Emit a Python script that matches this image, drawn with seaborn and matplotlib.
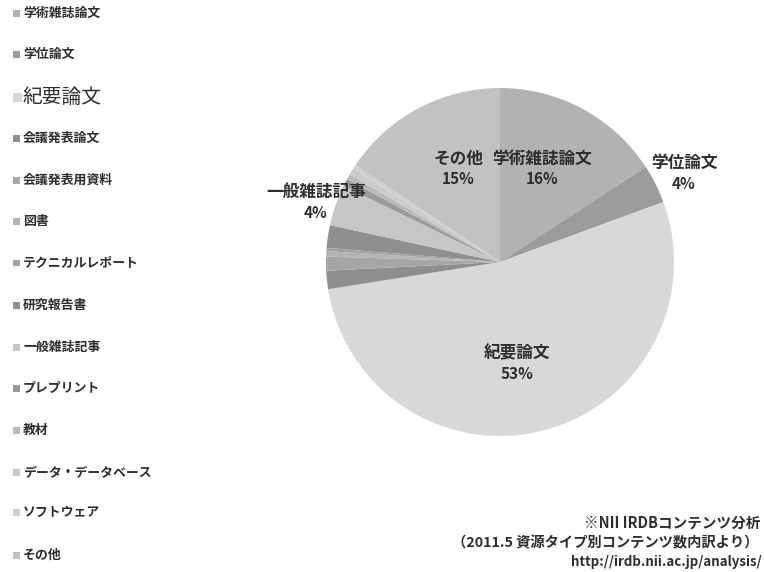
import matplotlib
matplotlib.use("Agg")
import matplotlib.pyplot as plt
import seaborn as sns

sns.set_theme(style="white")
plt.rcParams['font.family'] = ['Noto Sans CJK JP', 'DejaVu Sans']

# Data (clockwise from 12 o'clock)
categories = ["学術雑誌論文", "学位論文", "紀要論文", "会議発表論文", "会議発表用資料",
              "図書", "テクニカルレポート", "研究報告書", "一般雑誌記事", "プレプリント",
              "教材", "データ・データベース", "ソフトウェア", "その他"]
values = [15.8, 3.6, 53.1, 1.7, 1.3, 0.5, 0.3, 2.1, 3.8, 0.7, 0.5, 0.6, 0.4, 15.6]
percent_labels = ["16%", "4%", "53%", "", "", "", "", "", "4%", "", "", "", "", "15%"]
colors = ["#b2b2b2", "#9c9c9c", "#d8d8d8", "#8e8e8e", "#a6a6a6",
          "#b4b4b4", "#a2a2a2", "#8f8f8f", "#c6c6c6", "#9a9a9a",
          "#bababa", "#cbcbcb", "#d0d0d0", "#c2c2c2"]

W, H = 764, 572
fig = plt.figure(figsize=(W / 100, H / 100), dpi=100)
fig.patch.set_facecolor("white")

cx, cy, r = 500, 262, 174
ax = fig.add_axes([(cx - r) / W, 1 - (cy + r) / H, 2 * r / W, 2 * r / H])
ax.pie(values, colors=colors, startangle=90, counterclock=False,
       wedgeprops=dict(linewidth=0), radius=1.0)
ax.set_xlim(-1, 1)
ax.set_ylim(-1, 1)
ax.set_aspect("equal")
ax.axis("off")

txt_color = "#2e2e2e"

def px(x, y):
    return x / W, 1 - y / H

# slice labels (name line y, percent line y)
slice_label_pos = {
    "その他": (458, 159, 179),
    "学術雑誌論文": (542, 159, 179),
    "学位論文": (684, 163, 184),
    "一般雑誌記事": (316, 192, 213),
    "紀要論文": (517, 353, 374),
}
for name, (x, y1, y2) in slice_label_pos.items():
    i = categories.index(name)
    fig.text(*px(x, y1), name, ha="center", va="center",
             fontsize=12, fontweight="bold", color=txt_color)
    fig.text(*px(x, y2), percent_labels[i], ha="center", va="center",
             fontsize=11, fontweight="bold", color=txt_color)

# legend on the left
legend_y = [13, 54, 97, 138, 180, 221, 263, 305, 347, 388, 430, 472, 512, 555]
for name, col, y in zip(categories, colors, legend_y):
    big = name == "紀要論文"
    s = 7 if not big else 9
    fig.patches.append(plt.Rectangle(px(13, y + s / 2), s / W, s / H,
                                     transform=fig.transFigure, facecolor=col,
                                     edgecolor="none"))
    fig.text(*px(23, y), name, ha="left", va="center",
             fontsize=9.3 if not big else 14.2,
             fontweight="bold" if not big else "normal",
             color=txt_color)

# source note
fig.text(*px(760, 523), "※NII IRDBコンテンツ分析", ha="right", va="center",
         fontsize=10.5, fontweight="bold", color=txt_color)
fig.text(*px(758, 543), "（2011.5 資源タイプ別コンテンツ数内訳より）", ha="right", va="center",
         fontsize=10.3, fontweight="bold", color=txt_color)
fig.text(*px(762, 562), "http://irdb.nii.ac.jp/analysis/", ha="right", va="center",
         fontsize=9.6, fontweight="bold", color=txt_color)

fig.savefig("out.png", dpi=100, facecolor="white")
